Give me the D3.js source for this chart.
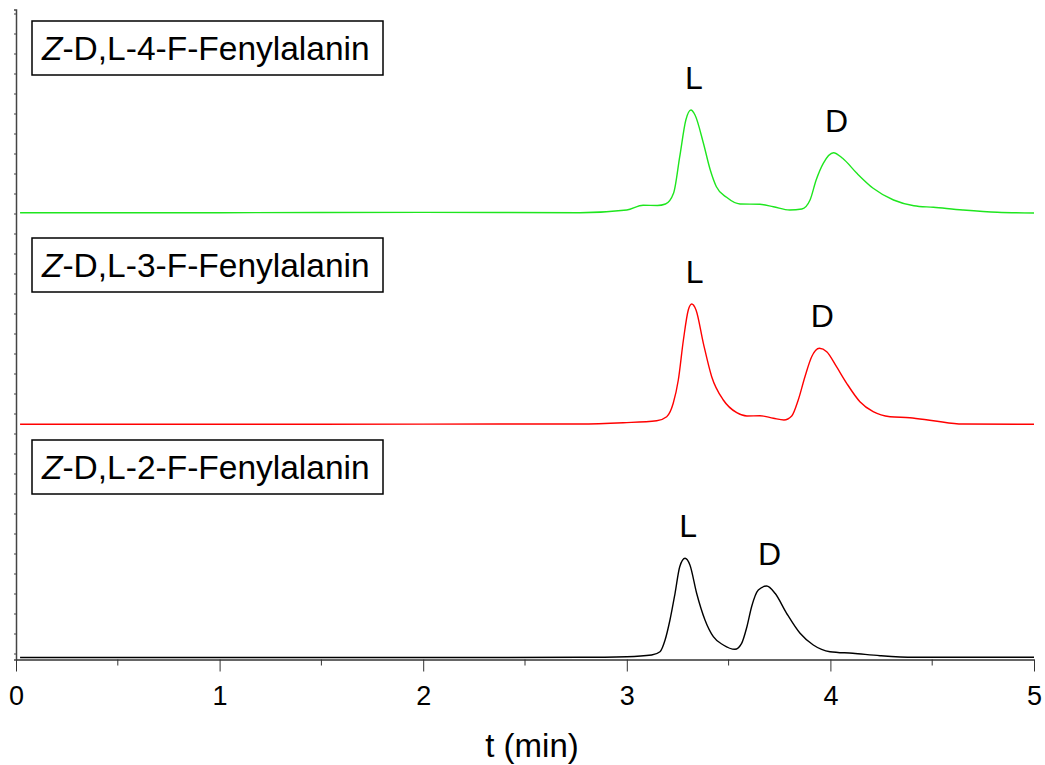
<!DOCTYPE html>
<html>
<head>
<meta charset="utf-8">
<script src="https://cdn.jsdelivr.net/npm/d3@7"></script>
<style>
  html, body { margin: 0; padding: 0; background: #fff; }
  text { font-family: "Liberation Sans", Arial, sans-serif; }
</style>
</head>
<body>
<div id="chart"></div>
<script>
// Chromatogram data (t in min, signal in arbitrary units above each trace's baseline)
const names = ["4", "3", "2"];

const t4F = [0.02, 1.0, 2.0, 2.77, 3.0, 3.08, 3.15, 3.19, 3.23, 3.26, 3.29, 3.315, 3.335, 3.376, 3.41, 3.44, 3.49, 3.556, 3.654, 3.72, 3.80, 3.86, 3.90, 3.93, 3.965, 4.015, 4.06, 4.13, 4.21, 4.31, 4.41, 4.506, 4.65, 4.82, 5.0];
const v4F = [0, 0, 0.3, 0, 2.7, 7.5, 7.2, 8.7, 19.7, 56, 92.7, 102.7, 97.7, 69.7, 42.7, 26, 15.4, 8.7, 8.4, 6, 2.7, 3.7, 12.7, 32.7, 49.4, 60, 54.4, 39.4, 24.4, 12.7, 7, 5.4, 2.7, 0.4, -0.3];

const t3F = [0.02, 1.0, 2.0, 2.77, 2.983, 3.147, 3.196, 3.228, 3.253, 3.278, 3.302, 3.319, 3.34, 3.376, 3.417, 3.474, 3.54, 3.59, 3.654, 3.72, 3.772, 3.81, 3.842, 3.875, 3.908, 3.946, 3.982, 4.03, 4.08, 4.145, 4.21, 4.293, 4.39, 4.506, 4.65, 5.0];
const v3F = [0, 0, 0.2, 0.3, 1.6, 3.6, 7.6, 21, 44.3, 84.3, 114.3, 120.3, 114.3, 81, 47.6, 24.3, 11.6, 8.3, 8.6, 6, 4.3, 8.3, 24.3, 47.6, 67.6, 76, 72.6, 57.6, 41, 22.6, 12.6, 7.6, 6.6, 3.6, 0.3, 0];

const t2F = [0.02, 1.0, 2.0, 2.77, 3.0, 3.122, 3.163, 3.188, 3.212, 3.237, 3.26, 3.286, 3.31, 3.343, 3.384, 3.425, 3.474, 3.531, 3.564, 3.59, 3.613, 3.646, 3.687, 3.728, 3.785, 3.851, 3.916, 3.998, 4.11, 4.244, 4.41, 5.0];
const v2F = [0, 0, 0, 0.2, 0.8, 2.5, 5.8, 17.5, 37.5, 64.2, 90.8, 99.2, 92.5, 64.2, 37.5, 20.8, 12.5, 8.2, 14.2, 30.8, 50.8, 67.5, 71.5, 64.2, 44.2, 24.2, 12.5, 5.8, 4.2, 1.8, 0.2, 0.2];

// vertical offset of each trace (same units)
const offsets = [446.8, 235.2, 2];
// peak windows for the L and D labels
const peakWindows = [[[3.2, 3.5], [3.85, 4.3]], [[3.2, 3.5], [3.8, 4.2]], [[3.2, 3.45], [3.55, 3.9]]];
const peakNames = ["L", "D"];

const xTicks = [0, 1, 2, 3, 4, 5];
const xMinor = [0.5, 1.5, 2.5, 3.5, 4.5];

const colors = ["#1ee61e", "#ff0000", "#000000"];
const boxTops = [21, 238, 440];

const width = 1045, height = 765;
const left = 16, right = 1034, bottom = 659.5;

const svg = d3.select("#chart").append("svg")
    .attr("width", width)
    .attr("height", height);

const x = d3.scaleLinear().domain([0, 5]).range([left, right]);
const y = d3.scaleLinear().domain([0, 650]).range([bottom, bottom - 650]);

// y axis: bare line with tiny ticks
const yAxis = svg.append("g")
    .attr("transform", `translate(${left},0)`)
    .call(d3.axisLeft(y).tickValues(d3.range(6, 650, 20)).tickSize(2).tickFormat(""));
yAxis.select(".domain").attr("stroke", "#444").attr("stroke-width", 1.5);
yAxis.selectAll(".tick line").attr("stroke", "#444");

// traces
const series = [[t4F, v4F], [t3F, v3F], [t2F, v2F]];
const line = d3.line()
    .x(d => x(d[0]))
    .y(d => y(d[1]))
    .curve(d3.curveMonotoneX);

series.forEach((s, i) => {
    const pts = s[0].map((t, j) => [t, s[1][j] + offsets[i]]);
    svg.append("path")
        .datum(pts)
        .attr("fill", "none")
        .attr("stroke", colors[i])
        .attr("stroke-width", 1.4)
        .attr("d", line);

    // L / D labels above the apex of each peak
    peakWindows[i].forEach((w, k) => {
        const inWin = pts.filter(p => p[0] >= w[0] && p[0] <= w[1]);
        const apex = inWin.reduce((a, b) => (b[1] > a[1] ? b : a));
        svg.append("text")
            .attr("x", x(apex[0]) + 3)
            .attr("y", y(apex[1]) - 21)
            .attr("text-anchor", "middle")
            .attr("font-size", "32px")
            .attr("fill", "#000")
            .text(peakNames[k]);
    });
});

// x axis
const xAxis = svg.append("g")
    .attr("transform", `translate(0,${bottom})`)
    .call(d3.axisBottom(x).tickValues(xTicks).tickSize(12).tickSizeOuter(0).tickPadding(14).tickFormat(d3.format("d")));
xAxis.select(".domain").attr("stroke", "#333").attr("stroke-width", 1.5);
xAxis.selectAll(".tick line").attr("stroke", "#333");
xAxis.selectAll(".tick text").attr("font-size", "27px").attr("fill", "#000")
    .attr("font-family", "'Liberation Sans', Arial, sans-serif");

svg.append("g")
    .attr("transform", `translate(0,${bottom})`)
    .selectAll("line")
    .data(xMinor)
    .enter().append("line")
    .attr("x1", d => x(d)).attr("x2", d => x(d))
    .attr("y1", 0).attr("y2", 6)
    .attr("stroke", "#333");

svg.append("text")
    .attr("x", 532)
    .attr("y", 757)
    .attr("text-anchor", "middle")
    .attr("font-size", "33px")
    .text("t (min)");

// compound boxes
names.forEach((n, i) => {
    const g = svg.append("g").attr("transform", `translate(32,${boxTops[i]})`);
    g.append("rect")
        .attr("width", 351)
        .attr("height", 54)
        .attr("fill", "#fff")
        .attr("stroke", "#000")
        .attr("stroke-width", 1.5);
    const t = g.append("text")
        .attr("x", 10)
        .attr("y", 38.5)
        .attr("font-size", "33.5px")
        .attr("fill", "#000");
    t.append("tspan").attr("font-style", "italic").text("Z");
    t.append("tspan").text(`-D,L-${n}-F-Fenylalanin`);
});
</script>
</body>
</html>
